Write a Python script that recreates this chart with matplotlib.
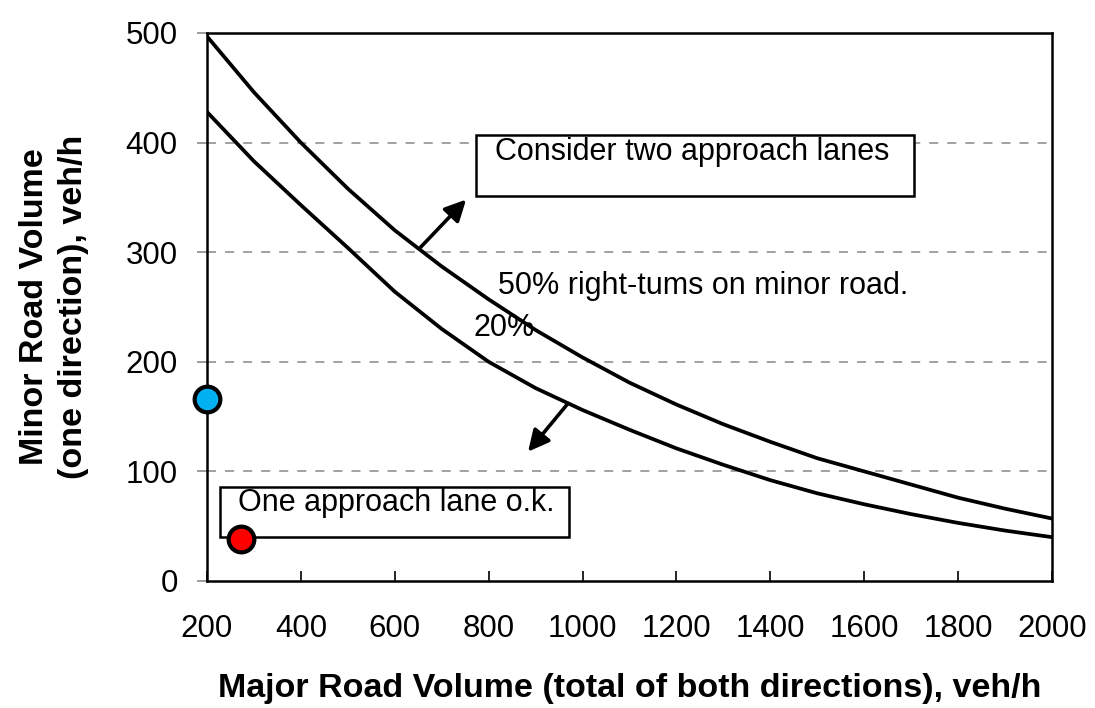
import numpy as np
import matplotlib
matplotlib.use("Agg")
import matplotlib.pyplot as plt

plt.rcParams['font.family'] = ['Liberation Sans', 'DejaVu Sans']

# major road volume (total of both directions), veh/h
major_volume = [200, 300, 400, 500, 600, 700, 800, 900, 1000, 1100,
                1200, 1300, 1400, 1500, 1600, 1700, 1800, 1900, 2000]
# minor road volume thresholds, veh/h
minor_50pct = [497, 446, 400, 358, 320, 287, 257, 229, 204, 181,
               161, 143, 127, 112, 100, 88, 76, 66, 57]
minor_20pct = [428, 383, 343, 304, 264, 230, 200, 176, 156, 138,
               121, 106, 92, 80, 70, 61, 53, 46, 40]

# observed points (major, minor)
blue_point = (200, 166)
red_point = (272, 38)

x_ticks = [200, 400, 600, 800, 1000, 1200, 1400, 1600, 1800, 2000]
y_ticks = [0, 100, 200, 300, 400, 500]
grid_levels = [100, 200, 300, 400]

fig = plt.figure(figsize=(10.95, 7.08), dpi=100)
ax = fig.add_axes([0.189, 0.1794, 0.7717, 0.774])

# dashed grey grid
for g in grid_levels:
    ax.axhline(g, color='#9a9a9a', lw=1.3, ls=(0, (5, 5)), zorder=1)

ax.plot(major_volume, minor_50pct, color='black', lw=2.7, zorder=3)
ax.plot(major_volume, minor_20pct, color='black', lw=2.7, zorder=3)

# region arrows
ax.annotate('', xy=(752, 348), xytext=(654, 304),
            arrowprops=dict(arrowstyle='-|>', color='black', lw=2.6,
                            mutation_scale=32, shrinkA=0, shrinkB=0), zorder=4)
ax.annotate('', xy=(884, 118), xytext=(969, 162),
            arrowprops=dict(arrowstyle='-|>', color='black', lw=2.6,
                            mutation_scale=32, shrinkA=0, shrinkB=0), zorder=4)

# boxes
ax.add_patch(plt.Rectangle((773, 351), 1706 - 773, 407 - 351, facecolor='white',
                           edgecolor='black', lw=1.8, zorder=2))
ax.text(813, 391, 'Consider two approach lanes', fontsize=22, va='center',
        ha='left', zorder=5)
ax.add_patch(plt.Rectangle((228, 40), 971 - 228, 86 - 40, facecolor='white',
                           edgecolor='black', lw=1.8, zorder=2))
ax.text(266, 71, 'One approach lane o.k.', fontsize=22, va='center',
        ha='left', zorder=5)

ax.text(820, 269, '50% right-tums on minor road.', fontsize=22, va='center',
        ha='left', zorder=5)
ax.text(767, 231, '20%', fontsize=22, va='center', ha='left', zorder=5)

# observed points
ax.plot(*blue_point, 'o', ms=18.5, mfc='#00b0f0', mec='black', mew=3,
        clip_on=False, zorder=6)
ax.plot(*red_point, 'o', ms=18.5, mfc='#ff0000', mec='black', mew=3,
        clip_on=False, zorder=6)

ax.set_xlim(200, 2000)
ax.set_ylim(0, 500)
ax.set_xticks(x_ticks)
ax.set_yticks(y_ticks)
ax.tick_params(axis='x', direction='in', length=7, width=1.2, pad=24,
               labelsize=22.5)
ax.tick_params(axis='y', direction='out', length=7, width=1.2,
               color='#8a8a8a', pad=14, labelsize=22.5)
for s in ax.spines.values():
    s.set_linewidth(1.8)

ax.set_xlabel('Major Road Volume (total of both directions), veh/h',
              fontsize=24.5, fontweight='bold', labelpad=21)
ax.set_ylabel('Minor Road Volume\n(one direction), veh/h', fontsize=24.5,
              fontweight='bold', labelpad=26, linespacing=1.35)

fig.savefig('out.png', dpi=100)
